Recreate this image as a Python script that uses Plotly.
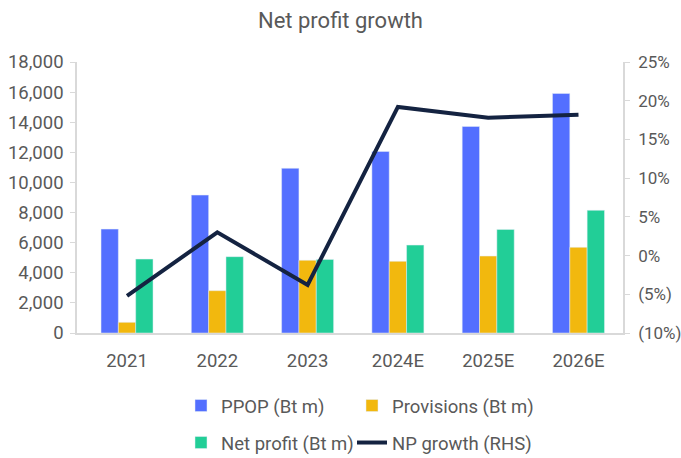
import plotly.graph_objects as go

years = ["2021", "2022", "2023", "2024E", "2025E", "2026E"]
ppop = [6900, 9160, 10940, 12060, 13720, 15910]
provisions = [710, 2810, 4830, 4760, 5110, 5690]
net_profit = [4910, 5070, 4890, 5840, 6880, 8150]
np_growth = [-5.2, 3.0, -3.8, 19.2, 17.8, 18.2]

left_ticks = list(range(0, 18001, 2000))
right_ticks = [-10, -5, 0, 5, 10, 15, 20, 25]
right_labels = ["(10%)", "(5%)", "0%", "5%", "10%", "15%", "20%", "25%"]

FONT = "Roboto"
GREY = "#595959"
FS = 18.5
W, H = 681, 458

fig = go.Figure()
fig.add_trace(go.Bar(x=years, y=ppop, name="PPOP (Bt m)", marker_color="#536FFF",
                     legend="legend"))
fig.add_trace(go.Bar(x=years, y=provisions, name="Provisions (Bt m)", marker_color="#F2B80E",
                     legend="legend2"))
fig.add_trace(go.Bar(x=years, y=net_profit, name="Net profit (Bt m)", marker_color="#22CE97",
                     legend="legend3"))
fig.add_trace(go.Scatter(x=years, y=np_growth, name="NP growth (RHS)", mode="lines",
                         line=dict(color="#142341", width=4), yaxis="y2", legend="legend4"))


def leg(xpx, ypx):
    return dict(orientation="h", xref="container", yref="container",
                x=xpx / W, xanchor="left", y=1 - ypx / H, yanchor="middle",
                font=dict(size=FS, color=GREY), bgcolor="rgba(0,0,0,0)", visible=True)


fig.update_layout(
    width=W, height=H, showlegend=True,
    margin=dict(l=77, r=58, t=62, b=125),
    paper_bgcolor="white", plot_bgcolor="white",
    font=dict(family=FONT, color=GREY, size=FS),
    title=dict(text="Net profit growth", x=0.5, xanchor="center",
               y=1 - 20 / H, yanchor="middle",
               font=dict(family=FONT, size=22, color=GREY)),
    barmode="group", bargap=0.424, bargroupgap=0,
    xaxis=dict(showline=True, linecolor="#d9d9d9", linewidth=1.5, ticks="",
               range=[-0.554, 5.493], ticklabelstandoff=10,
               tickfont=dict(size=FS, color=GREY), showgrid=False, automargin=False),
    yaxis=dict(range=[0, 18000], tickvals=left_ticks, tickformat=",d", showgrid=False,
               showline=True, linecolor="#d9d9d9", linewidth=1.5, ticks="outside",
               ticklen=5, tickcolor="#d9d9d9", zeroline=False, automargin=False,
               ticklabelstandoff=3,
               tickfont=dict(size=FS, color=GREY)),
    yaxis2=dict(range=[-10, 25], tickvals=right_ticks, ticktext=right_labels,
                overlaying="y", side="right", showgrid=False, showline=True,
                linecolor="#d9d9d9", linewidth=1.5, ticks="outside", ticklen=5,
                tickcolor="#d9d9d9", zeroline=False, automargin=False,
                ticklabelstandoff=5,
                tickfont=dict(size=17, color=GREY)),
    legend=leg(181, 406),
    legend2=leg(352, 406),
    legend3=leg(181, 443),
    legend4=leg(352, 443),
)

fig.write_html("out.html", config={"displayModeBar": False},
               post_script="document.body.style.margin='0';")
